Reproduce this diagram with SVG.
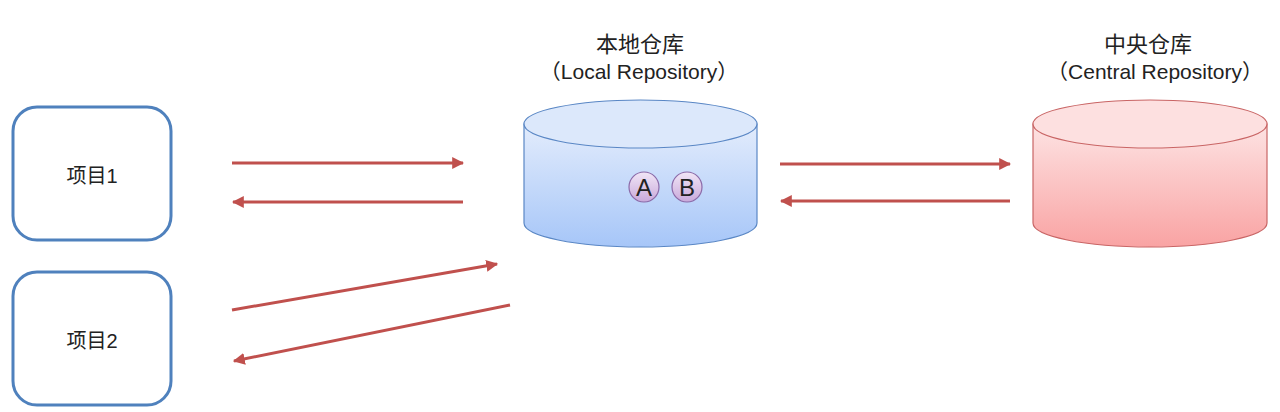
<svg xmlns="http://www.w3.org/2000/svg" width="1280" height="412" viewBox="0 0 1280 412">
<defs>
<linearGradient id="gBlue" x1="0" y1="0" x2="0" y2="1"><stop offset="0" stop-color="#e3ecfc"/><stop offset="1" stop-color="#a6c6f8"/></linearGradient>
<linearGradient id="gRed" x1="0" y1="0" x2="0" y2="1"><stop offset="0" stop-color="#fde3e3"/><stop offset="1" stop-color="#f9a3a3"/></linearGradient>
<linearGradient id="gPur" x1="0" y1="0" x2="0" y2="1"><stop offset="0" stop-color="#f1e6f6"/><stop offset="1" stop-color="#c9a9db"/></linearGradient>
<marker id="ah" viewBox="0 0 10 10" refX="9" refY="5" markerWidth="4" markerHeight="4" orient="auto-start-reverse" markerUnits="strokeWidth"><path d="M0,0 L10,5 L0,10 z" fill="#c0504d"/></marker>
<style>
.box{fill:#fff;stroke:#4f81bd;stroke-width:3}
.t{font-family:"Liberation Sans","Noto Sans CJK SC",sans-serif;fill:#222}
.arr{stroke:#c0504d;stroke-width:3;fill:none;marker-end:url(#ah)}
</style>
</defs>
<g id="project1">
<rect class="box" x="13" y="107" width="158" height="133" rx="24"/>
<text class="t" x="92" y="183" font-size="20" text-anchor="middle">项目1</text>
</g>
<g id="project2">
<rect class="box" x="13" y="272" width="158" height="133" rx="24"/>
<text class="t" x="92" y="348" font-size="20" text-anchor="middle">项目2</text>
</g>
<g id="local">
<text class="t" x="640" y="52" font-size="22" text-anchor="middle">本地仓库</text>
<text class="t" x="639" y="79" font-size="21" text-anchor="middle">（Local Repository）</text>
<path d="M524,124 L524,223 A116.5,24 0 0 0 757,223 L757,124 Z" fill="url(#gBlue)" stroke="#5a87c5" stroke-width="1.2"/>
<ellipse cx="640.5" cy="124" rx="116.5" ry="24" fill="#dce8fb" stroke="#5a87c5" stroke-width="1.2"/>
<g id="nodeA"><circle cx="644" cy="187" r="15" fill="url(#gPur)" stroke="#8b6aa8" stroke-width="1.2"/>
<text class="t" x="644" y="196" font-size="24" text-anchor="middle">A</text></g>
<g id="nodeB"><circle cx="687" cy="187" r="15" fill="url(#gPur)" stroke="#8b6aa8" stroke-width="1.2"/>
<text class="t" x="687" y="196" font-size="24" text-anchor="middle">B</text></g>
</g>
<g id="central">
<text class="t" x="1148" y="52" font-size="22" text-anchor="middle">中央仓库</text>
<text class="t" x="1155" y="79" font-size="21" text-anchor="middle">（Central Repository）</text>
<path d="M1033,124 L1033,223 A117,24 0 0 0 1267,223 L1267,124 Z" fill="url(#gRed)" stroke="#c96565" stroke-width="1.2"/>
<ellipse cx="1150" cy="124" rx="117" ry="24" fill="#fde0e0" stroke="#c96565" stroke-width="1.2"/>
</g>
<g id="connectors">
<line class="arr" x1="232" y1="163" x2="463" y2="163"/>
<line class="arr" x1="463" y1="202" x2="233" y2="202"/>
<line class="arr" x1="232" y1="310" x2="497" y2="264"/>
<line class="arr" x1="510" y1="305" x2="234" y2="361"/>
<line class="arr" x1="780" y1="164" x2="1010" y2="164"/>
<line class="arr" x1="1010" y1="201" x2="781" y2="201"/>
</g>
</svg>
